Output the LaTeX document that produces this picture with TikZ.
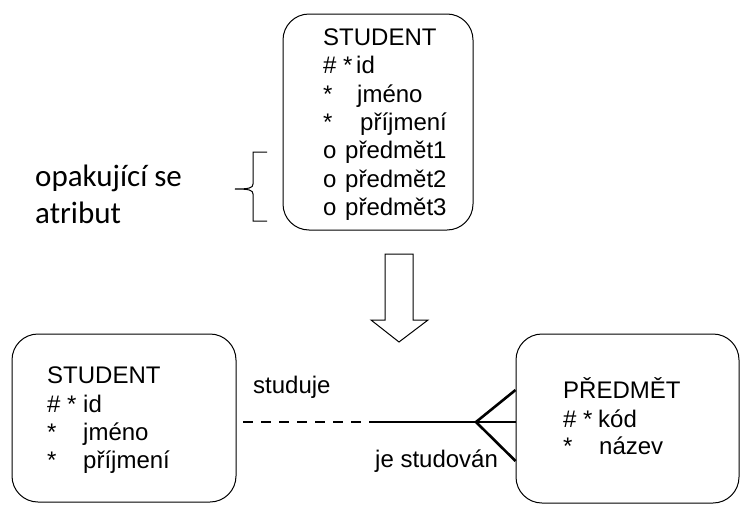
\documentclass[tikz,border=0pt]{standalone}
\usepackage{fontspec}
\setmainfont{Liberation Sans}
\newfontfamily\calfont{Carlito}
\begin{document}
\begin{tikzpicture}[x=1pt,y=-1pt,
  ebox/.style={draw, line width=1pt, rounded corners=26pt, inner sep=0pt},
  txt/.style={anchor=base west, inner sep=0pt, font=\fontsize{24}{28}\selectfont},
  ctxt/.style={anchor=base west, inner sep=0pt, font=\calfont\fontsize{31}{36}\selectfont},
  rel/.style={line width=2.6pt},
  thin/.style={line width=1pt}]
\useasboundingbox (0,0) rectangle (755,522);

% top box
\node[ebox, minimum width=190pt, minimum height=216pt] (topbox) at (378,122) {};
\node[txt] (t0) at (323,45) {STUDENT};
\node[txt] (t1a) at (323,73.5) {\#};
\node[txt] (t1b) at (343,73.5) {*};
\node[txt] (t1c) at (356,73.5) {id};
\node[txt] (t2a) at (323,102) {*};
\node[txt] (t2b) at (357,102) {jméno};
\node[txt] (t3a) at (323,130) {*};
\node[txt] (t3b) at (360,130) {příjmení};
\node[txt] (t4a) at (323,158.5) {o};
\node[txt] (t4b) at (345,158.5) {předmět1};
\node[txt] (t5a) at (323,187) {o};
\node[txt] (t5b) at (345,187) {předmět2};
\node[txt] (t6a) at (323,215) {o};
\node[txt] (t6b) at (345,215) {předmět3};

% brace and note
\node[ctxt] (n1) at (35,186) {opakující se};
\node[ctxt] (n2) at (35,223) {atribut};
\coordinate (bt) at (267,152);
\coordinate (bb) at (267,221);
\coordinate (bm) at (235,189);
\draw[thin] (bt) -- (253,152) -- (253,184) .. controls (253,188) and (249,189) .. (bm)
  .. controls (249,189) and (253,190) .. (253,194) -- (253,221) -- (bb);

% arrow
\draw[thin] (385,254) -- (413,254) -- (413,320) -- (428,320) -- (399,342) -- (371,320) -- (385,320) -- cycle;

% bottom left box
\node[ebox, minimum width=224pt, minimum height=168pt] (lbox) at (124,418) {};
\node[txt] (l0) at (47,383) {STUDENT};
\node[txt] (l1a) at (47,412) {\#};
\node[txt] (l1b) at (67,412) {*};
\node[txt] (l1c) at (83,412) {id};
\node[txt] (l2a) at (47,440) {*};
\node[txt] (l2b) at (83,440) {jméno};
\node[txt] (l3a) at (47,468) {*};
\node[txt] (l3b) at (83,468) {příjmení};

% bottom right box
\node[ebox, minimum width=223pt, minimum height=169pt] (rbox) at (627.5,418.5) {};
\node[txt] (r0) at (563,398) {PŘEDMĚT};
\node[txt] (r1a) at (563,427) {\#};
\node[txt] (r1b) at (583,427) {*};
\node[txt] (r1c) at (598,427) {kód};
\node[txt] (r2a) at (563,454) {*};
\node[txt] (r2b) at (599,454) {název};

% relationship
\coordinate (ds) at (243,422);
\coordinate (dm) at (378,422);
\coordinate (ap) at (476,422);
\draw[rel, dash pattern=on 10pt off 8pt] (ds) -- (dm);
\draw[rel] (dm) -- (rbox.west |- dm);
\draw[rel] (ap) -- (rbox.west |- 0,390);
\draw[rel] (ap) -- (rbox.west |- 0,461);
\node[txt] (s1) at (253,393) {studuje};
\node[txt] (s2) at (375,467) {je studován};
\end{tikzpicture}
\end{document}
